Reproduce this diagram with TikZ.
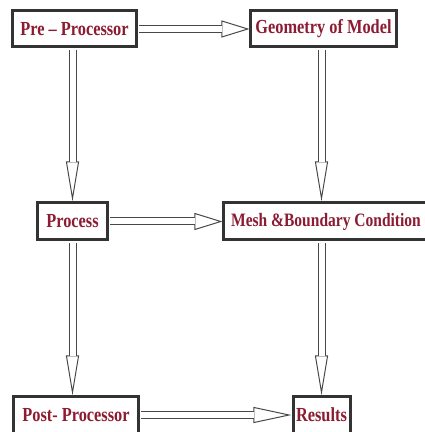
\documentclass[tikz,border=0pt]{standalone}
\usepackage{fontspec}
\setmainfont[FakeStretch=0.82]{Liberation Serif}
\usepackage{xcolor}
\usetikzlibrary{arrows.meta}
\definecolor{boxtext}{HTML}{8C1C32}
\definecolor{arrowline}{HTML}{484848}

\tikzset{
	stage/.style={draw=black!80, line width=3bp, fill=white, text=boxtext,
		font=\fontsize{20}{24}\selectfont\bfseries, inner sep=0pt},
	% open head of a hollow arrow: #1 = length, #2 = width
	head/.style 2 args={draw=arrowline, line width=1bp, shorten <=1.5bp,
		-{Triangle[open, length=#1, width=#2]}},
	% double shaft, stops just inside the head
	shaft/.style={draw=arrowline, line width=1bp, double=white, double distance=6bp,
		shorten <=1.5bp, shorten >=#1-1bp}
}

\begin{document}
\begin{tikzpicture}[x=1bp, y=1bp]
	\useasboundingbox (0,0) rectangle (425,432);
	% boxes
	\node[stage, minimum width=123bp, minimum height=36bp] (pre) at (74.5,403) {Pre -- Processor};
	\node[stage, minimum width=145bp, minimum height=36bp] (geo) at (323.5,403) {Geometry of Model};
	\node[stage, minimum width=69bp, minimum height=37bp] (proc) at (72.5,210.5) {Process};
	\node[stage, minimum width=204bp, minimum height=37bp, font=\fontsize{19}{23}\selectfont\bfseries] (mesh) at (326,210.5) {Mesh \&Boundary Condition};
	\node[stage, minimum width=124bp, minimum height=36bp] (post) at (76,17) {Post- Processor};
	\node[stage, minimum width=57bp, minimum height=36bp] (res) at (321.5,17) {Results};
	% arrows
	\draw[head={28bp}{17bp}] (pre) -- (geo);
	\draw[shaft=28bp] (pre) -- (geo);
	\draw[head={28bp}{17bp}] (proc) -- (mesh);
	\draw[shaft=28bp] (proc) -- (mesh);
	\draw[head={38bp}{16bp}] (post) -- (res);
	\draw[shaft=38bp] (post) -- (res);
	\draw[head={40bp}{13bp}] (pre.south -| proc.north) -- (proc.north);
	\draw[shaft=40bp] (pre.south -| proc.north) -- (proc.north);
	\draw[head={40bp}{13bp}] (proc.south) -- (proc.south |- post.north);
	\draw[shaft=40bp] (proc.south) -- (proc.south |- post.north);
	\draw[head={40bp}{13bp}] (geo.south -| res.north) -- (mesh.north -| res.north);
	\draw[shaft=40bp] (geo.south -| res.north) -- (mesh.north -| res.north);
	\draw[head={40bp}{13bp}] (mesh.south -| res.north) -- (res.north);
	\draw[shaft=40bp] (mesh.south -| res.north) -- (res.north);
\end{tikzpicture}
\end{document}
